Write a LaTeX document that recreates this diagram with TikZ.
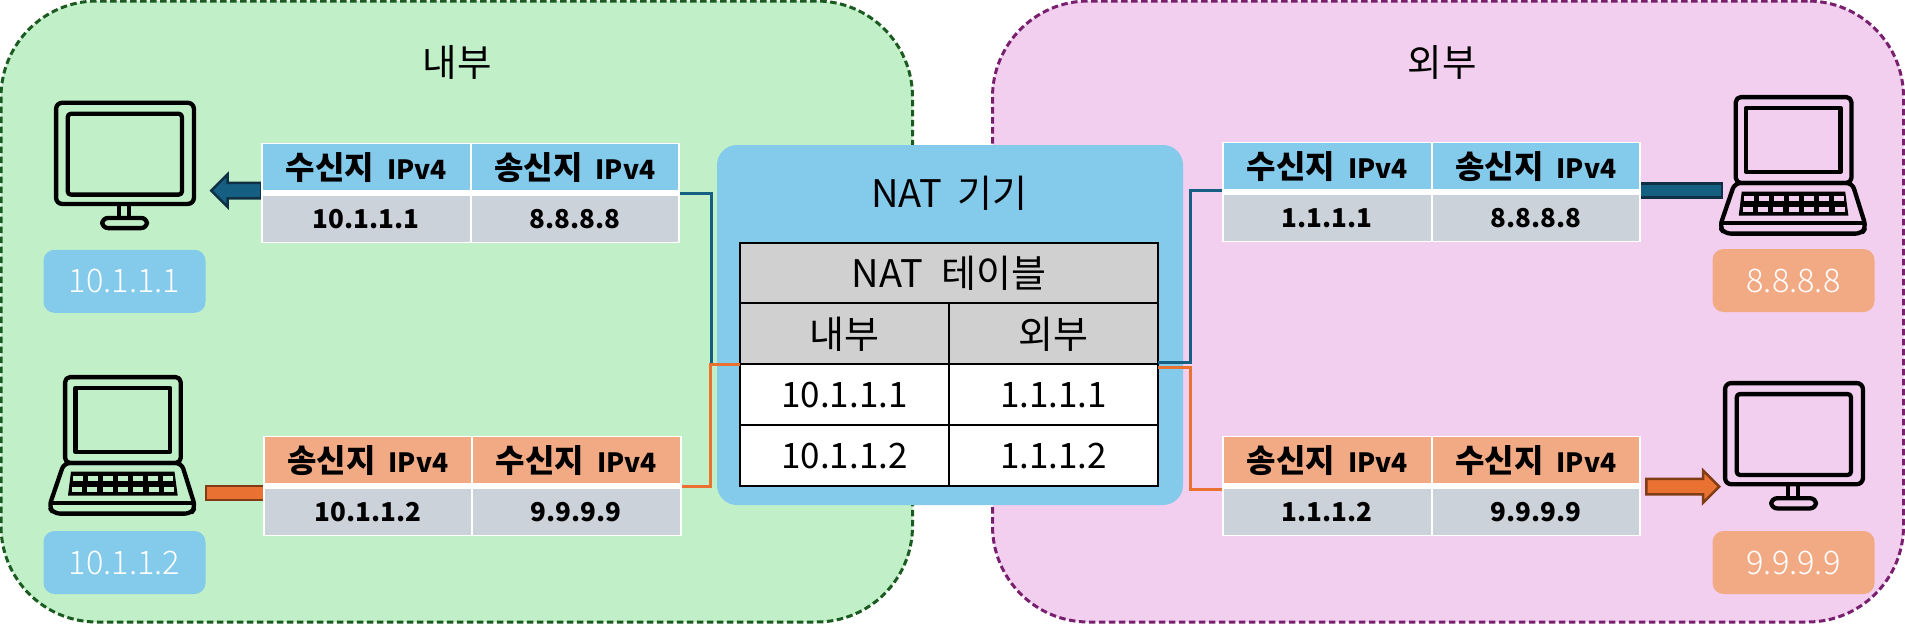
\documentclass[tikz,border=0pt]{standalone}
\usepackage{fontspec}
\usepackage{tikz}
\usetikzlibrary{shapes.arrows}
\setmainfont{Noto Sans CJK KR}
\newfontfamily\lightfont{Noto Sans CJK KR Light}
\definecolor{zoneIn}{HTML}{C1F0C8}
\definecolor{zoneInLine}{HTML}{1B5A20}
\definecolor{zoneOut}{HTML}{F2CEEF}
\definecolor{zoneOutLine}{HTML}{78206E}
\definecolor{natBlue}{HTML}{83CAEB}
\definecolor{natOrange}{HTML}{F2AA84}
\definecolor{dataGray}{HTML}{CCD2D9}
\definecolor{tableGray}{HTML}{D0D0D0}
\definecolor{lineBlue}{HTML}{156082}
\definecolor{lineBlueDark}{HTML}{0F2F44}
\definecolor{lineOrange}{HTML}{E97132}
\definecolor{lineOrangeDark}{HTML}{7F3C15}
\tikzset{
    zone/.style={shape=rectangle, draw, line width=3pt, rounded corners=96pt, dash pattern=on 6.5pt off 3.5pt,
        minimum height=621pt, outer sep=0pt},
    zonetitle/.style={font=\fontsize{37.5}{37.5}\selectfont},
    addr/.style={shape=rectangle, rounded corners=11pt, minimum width=162pt, minimum height=63pt,
        text=white, font=\lightfont\fontsize{32.5}{32.5}\selectfont},
    natcell/.style={shape=rectangle, draw=black, line width=2.2pt, minimum width=209pt, minimum height=61pt,
        outer sep=0pt, font=\fontsize{35}{35}\selectfont},
    nathead/.style={natcell, fill=tableGray, font=\fontsize{38}{38}\selectfont},
    pktback/.style={shape=rectangle, fill=white, minimum width=419pt, minimum height=100.5pt, outer sep=0pt},
    pktcell/.style={shape=rectangle, minimum width=206.5pt, minimum height=46pt, outer sep=0pt, inner sep=0pt,
        font=\fontsize{32}{32}\selectfont\bfseries},
    pktdata/.style={pktcell, fill=dataGray, font=\fontsize{26}{26}\selectfont\bfseries},
    blockbar/.style={shape=rectangle, line width=2.5pt, minimum height=14pt, outer sep=0pt},
    blockarrow/.style={shape=single arrow, line width=2.5pt, inner xsep=0pt, inner ysep=6.5pt,
        single arrow head extend=8.5pt, single arrow head indent=0pt, minimum height=50pt, anchor=tip},
    link/.style={line width=3pt},
    icon/.style={line width=4.3pt, draw=black, line join=round}
}
\newcommand{\ipfour}[1]{#1\hspace{13pt}{\fontsize{26.5}{26.5}\selectfont IPv4}}
% packet table: name, centre x, centre y, colour, two heads, two values
\newcommand{\pkttable}[8]{
    \node[pktback] (#1) at (#2,#3) {};
    \node[pktcell, fill=#4, anchor=north west] (#1-a) at ([shift={(2pt,-1.5pt)}]#1.north west) {\ipfour{#5}};
    \node[pktcell, fill=#4, anchor=north east] (#1-b) at ([shift={(-2pt,-1.5pt)}]#1.north east) {\ipfour{#6}};
    \node[pktdata, anchor=south west] (#1-c) at ([shift={(2pt,1.5pt)}]#1.south west) {#7};
    \node[pktdata, anchor=south east] (#1-d) at ([shift={(-2pt,1.5pt)}]#1.south east) {#8};
}
% monitor icon, x y is the top left of the frame
\newcommand{\monitoricon}[2]{
    \begin{scope}[shift={(#1,#2)}]
        \draw[icon, rounded corners=6pt] (2.1,2.1) rectangle (139.9,103.2);
        \draw[icon, rounded corners=3pt] (13.8,13.1) rectangle (127.9,93.9);
        \draw[icon] (64.8,103.2) -- (64.8,117) (75.2,103.2) -- (75.2,117);
        \draw[icon, rounded corners=6pt] (48.2,117.2) rectangle (93,127.4);
    \end{scope}
}
% laptop icon, x y is the top left of the screen, #3 the colour behind it
\newcommand{\laptopicon}[3]{
    \begin{scope}[shift={(#1,#2)}]
        \draw[icon, rounded corners=5pt] (2.1,2.1) rectangle (117.7,88);
        \draw[icon] (12.5,12.8) rectangle (106.9,76.9);
        \draw[icon, rounded corners=6pt] (1,88) -- (118.5,88) -- (132.3,132) -- (128,138.6) -- (-9,138.6) -- (-14,132) -- cycle;
        \draw[icon] (-13.5,128) -- (132,128);
        \fill[black] (8,96.7) -- (111.5,96.7) -- (114.7,120.7) -- (5,120.7) -- cycle;
        \foreach \kx in {0,...,6} {
            \fill[#3] ({10+15*\kx},101) rectangle ++(10,5.3);
            \fill[#3] ({9+15.3*\kx},111.7) rectangle ++(10,5);
        }
    \end{scope}
}

\begin{document}
\begin{tikzpicture}[x=1pt, y=-1pt]
    \useasboundingbox (0,0) rectangle (1905,624);
    % the two zones
    \node[zone, fill=zoneIn, draw=zoneInLine, minimum width=911.5pt] (inside) at (456.75,311.5) {};
    \node[zone, fill=zoneOut, draw=zoneOutLine, minimum width=911pt] (outside) at (1448,311.5) {};
    \node[zonetitle] (insideTitle) at (457,62) {내부};
    \node[zonetitle] (outsideTitle) at (1442,62) {외부};

    % NAT device with its table
    \node[shape=rectangle, fill=natBlue, rounded corners=20pt, minimum width=466pt, minimum height=360pt] (natBox) at (950,325) {};
    \node[zonetitle, font=\fontsize{38}{38}\selectfont] (natTitle) at (949.5,193) {NAT\hspace{7pt} 기기};
    \node[nathead, minimum width=418pt, minimum height=60pt, anchor=north west] (natHead) at (740,243.3) {NAT\hspace{10pt} 테이블};
    \node[nathead, anchor=north west] (natIn) at (natHead.south west) {내부};
    \node[nathead, anchor=north east] (natOut) at (natHead.south east) {외부};
    \node[natcell, fill=white, anchor=north] (natIn1) at (natIn.south) {10.1.1.1};
    \node[natcell, fill=white, anchor=north] (natOut1) at (natOut.south) {1.1.1.1};
    \node[natcell, fill=white, anchor=north] (natIn2) at (natIn1.south) {10.1.1.2};
    \node[natcell, fill=white, anchor=north] (natOut2) at (natOut1.south) {1.1.1.2};

    % block arrows and bars, under the packet tables
    \node[blockarrow, fill=lineBlue, draw=lineBlueDark, shape border rotate=180] (arrowIn) at (209.5,190.7) {};
    \node[blockbar, fill=lineOrange, draw=lineOrangeDark, minimum width=60pt] (barIn) at (236,493) {};
    \node[blockbar, fill=lineBlue, draw=lineBlueDark, minimum width=84pt] (barOut) at (1680,190.5) {};
    \node[blockarrow, fill=lineOrange, draw=lineOrangeDark, shape border rotate=0, minimum height=73pt] (arrowOut) at (1721,486.7) {};

    \pkttable{pktInTop}{470.5}{193}{natBlue}{수신지}{송신지}{10.1.1.1}{8.8.8.8}
    \pkttable{pktInBot}{472}{486.2}{natOrange}{송신지}{수신지}{10.1.1.2}{9.9.9.9}
    \pkttable{pktOutTop}{1431.5}{192.2}{natBlue}{수신지}{송신지}{1.1.1.1}{8.8.8.8}
    \pkttable{pktOutBot}{1431.5}{486.2}{natOrange}{송신지}{수신지}{1.1.1.2}{9.9.9.9}

    % links to the NAT table
    \draw[link, lineBlue] (pktInTop.east) -- ++(31,0) |- (natIn.south west);
    \draw[link, lineOrange] (natIn.south west) -- ++(-29.5,0) |- (pktInBot.east);
    \draw[link, lineBlue] ([yshift=1.5pt]natOut.south east) -- ++(32.7,0) |- ([yshift=1.9pt]pktOutTop.west);
    \draw[link, lineOrange] ([yshift=-3pt]natOut.south east) -- ++(32.7,0) |- ([yshift=-3pt]pktOutBot.west);

    % hosts
    \monitoricon{54}{100.7}
    \node[addr, fill=natBlue] (hostIn1) at (124.5,281.3) {10.1.1.1};
    \laptopicon{63}{375}{zoneIn}
    \node[addr, fill=natBlue] (hostIn2) at (124.5,562.5) {10.1.1.2};
    \laptopicon{1733.7}{95}{zoneOut}
    \node[addr, fill=natOrange] (hostOut1) at (1793.5,280.5) {8.8.8.8};
    \monitoricon{1723}{381}
    \node[addr, fill=natOrange] (hostOut2) at (1793.5,562.5) {9.9.9.9};
\end{tikzpicture}
\end{document}
